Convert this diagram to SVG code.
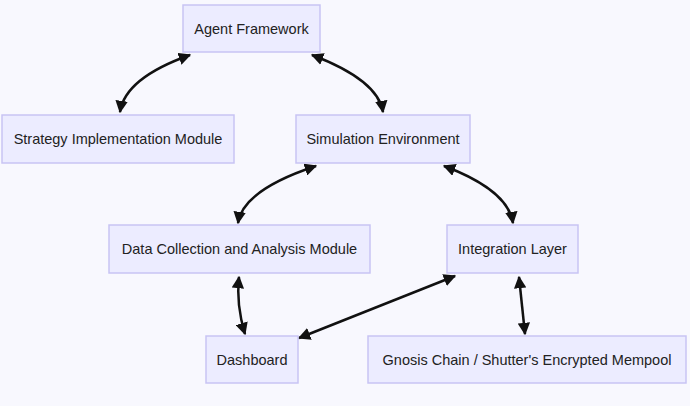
<svg xmlns="http://www.w3.org/2000/svg" width="690" height="406" viewBox="0 0 690 406">
<style>
.n rect{fill:#ECECFF;stroke:#c8c4f4;stroke-width:1.5}
.n text{font-family:"Liberation Sans",Arial,sans-serif;font-size:14.5px;fill:#222;text-anchor:middle;dominant-baseline:central}
.e path{fill:none;stroke:#111;stroke-width:2.5;marker-start:url(#a);marker-end:url(#a)}
</style>
<defs><marker id="a" viewBox="0 0 10 10" refX="9" refY="5" markerWidth="5" markerHeight="5" orient="auto-start-reverse" markerUnits="strokeWidth"><path d="M0,0L10,5L0,10z" fill="#111"/></marker></defs>
<rect width="690" height="406" fill="#f8f8fe"/>
<g class="e">
<path d="M190,55 Q125,78 120,112"/>
<path d="M312,55 Q378,80 383,112"/>
<path d="M316,166 Q243,190 238,223"/>
<path d="M444,166 Q508,190 513,223"/>
<path d="M239,277 Q236,305 245,334"/>
<path d="M455,276 L299,338"/>
<path d="M519,277 Q522,305 525,334"/>
</g>
<g class="n" id="agent"><rect x="183" y="5" width="137" height="47"/><text x="251.5" y="28.5">Agent Framework</text></g>
<g class="n" id="strategy"><rect x="2" y="115" width="232" height="48"/><text x="118" y="139">Strategy Implementation Module</text></g>
<g class="n" id="sim"><rect x="296" y="115" width="174" height="48"/><text x="383" y="139">Simulation Environment</text></g>
<g class="n" id="data"><rect x="109" y="225" width="261" height="48"/><text x="239.5" y="249">Data Collection and Analysis Module</text></g>
<g class="n" id="integ"><rect x="447" y="225" width="131" height="48"/><text x="512.5" y="249">Integration Layer</text></g>
<g class="n" id="dash"><rect x="206" y="336" width="92" height="47"/><text x="252" y="359.5">Dashboard</text></g>
<g class="n" id="gnosis"><rect x="368" y="336" width="318" height="47"/><text x="527" y="359.5">Gnosis Chain / Shutter's Encrypted Mempool</text></g>
</svg>
